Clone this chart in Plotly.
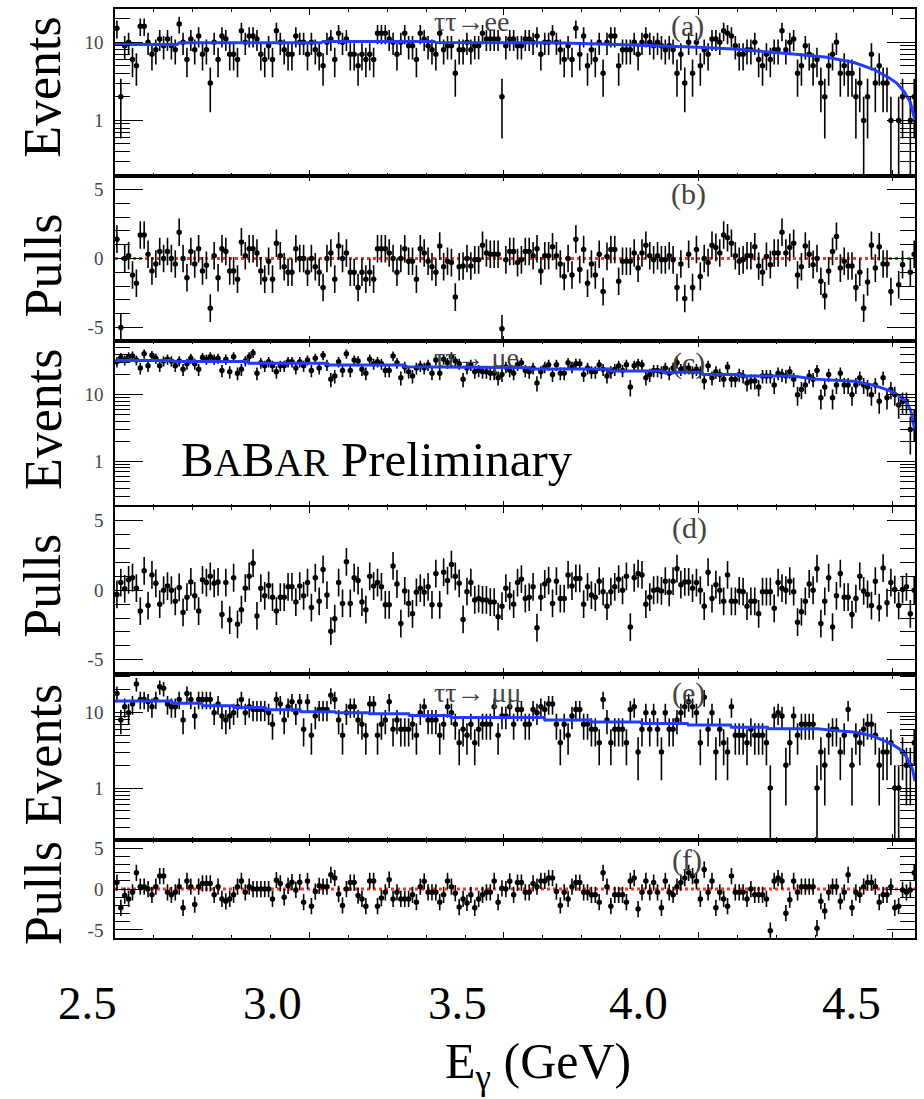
import numpy as np
import plotly.graph_objects as go
from plotly.subplots import make_subplots

# ---------------- binning ----------------
BIN_LO = 2.50
BIN_W = 0.01
N_BINS = 206
X_RANGE = [2.50, 4.557]

# ---------------- tau tau -> e e ----------------
events_a = [15, 2, 9, 10, 6, 5, 16, 16, 10, 7,
            8, 11, 9, 11, 9, 8, 17, 10, 6, 11,
            8, 12, 7, 8, 3, 10, 6, 12, 11, 7,
            7, 6, 14, 10, 12, 12, 11, 7, 6, 9,
            6, 14, 10, 8, 7, 7, 12, 10, 10, 7,
            10, 8, 7, 5, 10, 11, 6, 13, 10, 11,
            7, 7, 5, 7, 6, 7, 6, 13, 13, 13,
            11, 10, 7, 10, 13, 9, 9, 6, 13, 11,
            9, 8, 7, 13, 8, 9, 9, 4, 8,
            8, 10, 8, 9, 9, 13, 11, 11, 11, 11,
            2, 9, 11, 11, 9, 9, 11, 11, 10, 12,
            7, 10, 10, 13, 10, 8, 6, 9, 6, 15,
            7, 12, 5, 8, 6, 10, 4, 10, 12, 12,
            5, 8, 8, 8, 10, 7, 10, 12, 10, 9,
            10, 9, 8, 9, 8, 4, 7, 3, 10, 4,
            10, 5, 8, 7, 11, 11, 10, 14, 13, 12,
            9, 7, 7, 8, 8, 10, 6, 5, 7, 6,
            8, 8, 14, 8, 10, 11, 4, 5, 9, 7,
            5, 6, 3, 2, 5, 7, 10, 4, 5, 4,
            4, 2, 3, 1, 2, 7, 3, 5, 3, 3,
            1, None, 1, 2, None, 1, 2]

pulls_b = [1.4, -5.0, 0.0, 0.2, -1.2, -1.8, 1.7, 1.7, 0.3, -0.9,
           -0.4, 0.5, 0.0, 0.5, 0.0, -0.4, 1.9, 0.0, -1.4, 0.5,
           -0.4, 0.7, -0.9, -0.5, -3.6, 0.2, -1.4, 0.7, 0.5, -0.9,
           -0.9, -1.5, 1.2, 0.2, 0.7, 0.7, 0.4, -0.9, -1.5, -0.2,
           -1.5, 1.1, 0.2, -0.6, -1.0, -1.0, 0.7, 0.0, 0.0, -1.0,
           0.0, -0.6, -1.0, -2.1, 0.0, 0.4, -1.5, 0.9, 0.0, 0.4,
           -1.0, -1.0, -2.1, -1.0, -1.5, -1.0, -1.5, 0.7, 0.7, 0.7,
           0.4, 0.0, -1.0, 0.0, 0.7, -0.2, -0.2, -1.5, 0.7, 0.4,
           -0.2, -0.6, -1.0, 0.9, -0.6, -0.2, -0.3, -2.8, -0.6,
           -0.55, 0.0, -0.55, -0.1, -0.1, 0.95, 0.4, 0.3, 0.3, 0.3,
           -5.1, -0.1, 0.5, 0.5, -0.3, -0.1, 0.5, 0.5, 0.2, 0.7,
           -0.9, 0.2, 0.2, 0.85, 0.2, -0.4, -1.3, 0.0, -1.2, 1.4,
           -0.8, 0.65, -1.8, -0.4, -1.2, 0.3, -2.4, 0.15, 0.65, 0.65,
           -1.65, -0.2, -0.2, -0.2, 0.4, -0.7, 0.4, 0.95, 0.2, -0.1,
           0.2, -0.1, -0.1, 0.2, -0.1, -2.1, -0.4, -2.9, 0.3, -2.1,
           0.65, -1.3, 0.0, -0.3, 0.95, 0.8, 0.4, 1.7, 1.5, 1.1,
           0.2, -0.2, -0.1, 0.2, 0.2, 0.85, -0.55, -1.0, 0.15, -0.45,
           0.4, 0.4, 1.9, 0.4, 0.8, 1.1, -1.2, -0.6, 0.9, 0.3,
           -0.45, 0.0, -1.65, -2.7, -0.9, 0.5, 1.6, -0.7, -0.2, -0.55,
           -0.55, -2.1, -1.0, -3.6, -1.7, 0.95, -0.7, 0.85, -0.4, -0.4,
           -2.4, None, -1.9, -0.45, None, -1.0, 0.3]

fit_a_x = [2.50, 2.660, 2.665, 3.030, 3.035, 3.320, 3.325, 3.630, 3.790, 3.910,
           4.000, 4.100, 4.170, 4.250, 4.330, 4.400, 4.450, 4.490, 4.510, 4.530,
           4.545, 4.557]
fit_a_y = [9.3, 9.3, 9.8, 9.8, 10.2, 10.2, 9.9, 9.8, 9.3, 9.0,
           8.6, 8.1, 7.6, 7.0, 6.4, 5.5, 4.5, 3.5, 3.0, 2.3,
           1.7, 1.0]

# ---------------- tau tau -> mu e ----------------
events_c = [31, 36, 33, 37, 38, 33, 25, 41, 27, 39,
            35, 27, 32, 34, 32, 27, 32, 24, 29, 35,
            29, 24, 36, 34, 37, 34, 35, 23, 34, 22,
            37, 21, 24, 32, 37, 42, 21, 30, 27, 31,
            27, 22, 27, 27, 31, 31, 25, 31, 27, 33,
            23, 35, 25, 39, 28, 17, 19, 31, 23, 41,
            23, 33, 32, 24, 21, 34, 29, 31, 29, 23,
            23, 38, 30, 18, 26, 22, 19, 25, 27, 25,
            28, 21, 33, 21, 34, 30, 37, 32, 29,
            17, 25, 28, 22, 23, 22, 22, 21, 21, 18,
            20, 26, 23, 21, 28, 30, 23, 22, 25, 15,
            22, 26, 28, 20, 28, 21, 21, 30, 26, 29,
            29, 20, 25, 22, 22, 28, 24, 19, 22, 24,
            27, 23, 28, 13, 27, 29, 28, 18, 20, 23,
            23, 22, 25, 21, 25, 30, 24, 25, 25, 22,
            24, 22, 16, 27, 18, 22, 20, 17, 26, 17,
            17, 20, 19, 15, 16, 16, 13, 19, 19, 19,
            14, 21, 20, 19, 22, 17, 10, 12, 14, 19,
            17, 23, 9, 13, 20, 9, 14, 21, 14, 14,
            10, 14, 18, 14, 13, 10, 14, 8, 18, 9,
            12, 10, 7, 8, 8, 3, 4]

pulls_d = [-0.3, 0.55, 0.1, 0.75, 0.9, 0.15, -1.5, 1.4, -1.1, 1.1,
           0.5, -1.0, 0.0, 0.3, 0.0, -0.8, 0.2, -1.6, -0.5, 0.6,
           -0.4, -1.5, 0.75, 0.55, 1.0, 0.5, 0.6, -1.75, 0.55, -2.15,
           0.9, -2.45, -1.4, 0.15, 1.0, 1.95, -1.85, 0.15, -0.4, 0.35,
           -0.5, -1.5, -0.5, -0.5, 0.25, 0.25, -0.85, 0.3, -0.4, 0.55,
           -1.25, 0.9, -0.8, 1.5, -0.35, -2.95, -2.05, 0.55, -0.95, 2.05,
           -0.95, 0.9, 0.7, -0.85, -1.4, 1.0, 0.3, 0.55, 0.25, -1.05,
           -1.05, 1.75, 0.45, -2.4, -0.05, -0.95, -1.7, -0.15, 0.15, -0.15,
           0.25, -1.05, 1.2, -1.05, 1.3, 0.7, 1.85, 1.0, 0.5,
           -2.1, -0.1, 0.55, -0.7, -0.6, -0.7, -0.7, -0.85, -0.85, -1.9,
           -1.15, 0.15, -0.4, -1.0, 0.55, 0.8, -0.6, -0.5, 0.25, -2.7,
           -0.5, 0.45, 0.7, -0.95, 0.65, -0.6, -0.6, 1.1, 0.3, 0.85,
           0.85, -1.0, 0.25, -0.35, -0.5, 0.65, -0.1, -1.15, -0.1, 0.25,
           0.8, 0.0, 1.0, -2.65, 0.9, 1.2, 1.1, -1.0, -0.5, 0.0,
           0.05, -0.05, 0.65, -0.15, 0.65, 1.55, 0.4, 0.6, 0.6, 0.15,
           0.55, 0.0, -1.15, 1.3, -0.6, 0.4, 0.0, -0.8, 1.1, -0.8,
           -0.8, -0.05, -0.1, -1.15, -0.8, -0.8, -1.7, -0.1, -0.1, -0.1,
           -1.3, 0.55, 0.15, 0.0, 0.65, -0.1, -2.3, -1.55, -0.8, 0.45,
           0.0, 1.55, -2.4, -0.8, 0.9, -2.65, -0.4, 1.2, -0.5, -0.5,
           -1.75, -0.6, 1.0, -0.05, -0.3, -1.1, 0.65, -1.25, 1.6, -0.9,
           0.55, 0.05, -1.1, 0.05, 0.25, -1.7, 0.0]

fit_c_x = [2.50, 2.650, 2.652, 2.842, 2.844, 3.045, 3.047, 3.242, 3.244, 3.393,
           3.400, 3.565, 3.567, 3.771, 3.773, 3.908, 3.910, 4.010, 4.012, 4.106,
           4.108, 4.242, 4.300, 4.400, 4.450, 4.490, 4.515, 4.535, 4.546, 4.557]
fit_c_y = [32.4, 32.4, 31.3, 31.3, 29.5, 29.5, 27.8, 27.8, 26.3, 26.0,
           25.4, 25.4, 24.2, 24.2, 22.6, 22.6, 21.6, 21.6, 20.1, 20.1,
           19.0, 19.0, 17.1, 15.9, 13.9, 11.6, 9.8, 7.7, 5.8, 2.9]

# ---------------- tau tau -> mu mu ----------------
events_e = [18, 8, 12, 10, 13, 24, 15, 15, 14, 12,
            15, 22, 21, 13, 12, 12, 15, 8, 18, 15,
            9, 15, 15, 15, 15, 10, 13, 9, 8, 9,
            10, 12, 15, 10, 12, 11, 11, 11, 11, 10,
            7, 15, 13, 8, 12, 14, 10, 14, 6, 14,
            5, 9, 11, 11, 11, 17, 15, 8, 5, 10,
            12, 12, 8, 7, 5, 13, 13, 5, 7, 8,
            14, 6, 8, 6, 6, 6, 7, 5, 10, 12,
            8, 8, 8, 5, 7, 12, 10, 7, 4,
            6, 5, 7, 4, 6, 7, 7, 7, 12, 5,
            9, 9, 12, 7, 11, 11, 7, 7, 11, 10,
            12, 11, 13, 13, 7, 4, 7, 5, 9, 11,
            11, 7, 7, 6, 6, 4, 15, 8, 4, 6,
            6, 6, 4, 11, 12, 3, 6, 10, 6, 10,
            6, 3, 10, 6, 6, 8, 10, 12, 14, 12,
            10, 4, 16, 6, 10, 3, 6, 4, 3, 12,
            5, 5, 5, 4, 6, 5, 5, 5, 4, 1,
            9, 10, 9, 2, 4, 9, 5, 7, 7, 7,
            7, 1, 3, 2, 5, 6, 6, 3, 5, 11,
            2, 5, 4, 6, 7, 7, 5, 2, 3, 3,
            4, 1, 1, 3, 2, 2, 4]

pulls_f = [0.8, -2.3, -0.8, -1.2, -0.4, 2.0, 0.3, 0.3, 0.0, -0.7,
           0.3, 1.6, 1.6, -0.4, -0.7, -0.4, 0.3, -2.3, 1.0, 0.3,
           -1.9, 0.3, 0.7, 0.7, 0.7, -0.7, 0.3, -1.2, -1.5, -1.2,
           -0.7, 0.3, 1.0, -0.4, 0.3, 0.0, 0.0, 0.0, 0.0, 0.0,
           -1.2, 1.1, 0.7, -1.0, 0.4, 0.85, -0.1, 0.85, -1.6, 1.0,
           -2.1, -0.3, 0.4, 0.3, 0.3, 1.75, 1.35, -0.6, -2.0, 0.0,
           0.8, 0.8, -0.8, -1.2, -2.1, 1.0, 1.0, -2.1, -1.1, -0.4,
           1.15, -1.2, -0.4, -1.2, -1.2, -1.2, -0.7, -1.6, 0.3, 0.95,
           -0.4, -0.4, -0.4, -1.6, -0.7, 1.0, 0.3, -0.5, -2.2,
           -1.2, -1.7, -0.7, -2.3, -1.2, -0.7, -0.4, -0.4, 1.0, -1.6,
           0.1, 0.0, 0.95, -0.7, 0.8, 0.8, -0.4, -0.4, 0.7, 0.3,
           1.0, 1.0, 1.35, 1.35, -0.3, -2.0, -0.4, -1.2, 0.3, 0.8,
           0.8, -0.4, -0.4, -0.7, -0.7, -1.6, 2.0, 0.3, -2.1, -0.7,
           -0.7, -0.7, -1.6, 1.0, 1.35, -2.45, -0.4, 1.0, -0.4, 0.8,
           -0.4, -2.3, 1.0, -0.4, -0.7, 0.3, 0.8, 1.35, 2.0, 1.6,
           0.95, -1.2, 2.4, -0.4, 1.0, -2.3, -0.4, -1.2, -2.1, 1.6,
           -0.4, -0.4, -0.4, -1.2, 0.0, -0.7, -0.7, -0.7, -1.2, -5.1,
           1.0, 1.35, 1.0, -2.95, -1.3, 1.0, -0.4, 0.3, 0.3, 0.3,
           0.3, -4.8, -1.5, -2.7, -0.4, 0.3, 0.3, -1.5, -0.4, 1.75,
           -2.3, -0.4, -0.7, 0.3, 0.8, 0.8, 0.3, -1.6, -0.7, -0.7,
           0.3, -2.3, -2.1, -0.1, -0.4, -0.1, 2.0]

fit_e_x = [2.50, 2.646, 2.648, 2.723, 2.725, 2.804, 2.806, 2.886, 2.888, 2.976,
           2.978, 3.066, 3.068, 3.152, 3.154, 3.255, 3.257, 3.362, 3.364, 3.603,
           3.605, 3.723, 3.725, 3.852, 3.854, 3.972, 3.974, 4.083, 4.085, 4.178,
           4.180, 4.306, 4.350, 4.405, 4.448, 4.495, 4.517, 4.534, 4.551, 4.557]
fit_e_y = [14.3, 14.3, 13.3, 13.3, 12.3, 12.3, 11.7, 11.7, 10.9, 10.9,
           10.3, 10.3, 10.0, 10.0, 9.7, 9.7, 9.2, 9.2, 8.6, 8.6,
           8.0, 8.0, 7.5, 7.5, 7.2, 7.2, 6.85, 6.85, 6.4, 6.4,
           6.1, 6.1, 5.8, 5.5, 4.9, 3.9, 3.3, 2.65, 1.76, 1.23]

# ---------------- labels ----------------
x_tick_vals = [2.5, 3.0, 3.5, 4.0, 4.5]
x_label_text = ["2.5", "3.0", "3.5", "4.0", "4.5"]
channel_titles = ["\u03c4\u03c4\u2192ee", "\u03c4\u03c4\u2192 \u03bce", "\u03c4\u03c4\u2192 \u03bc\u03bc"]
panel_tags = ["(a)", "(b)", "(c)", "(d)", "(e)", "(f)"]
y_titles = ["Events", "Pulls", "Events", "Pulls", "Events", "Pulls"]

# ---------------- geometry (pixels) ----------------
W, H = 924, 1099
ML, MR, MT, MB = 115, 9, 7, 161
row_px = [167, 166, 166, 167, 167, 98]
PW = W - ML - MR
PH = H - MT - MB
SERIF = "Liberation Serif"
# overlaid big x labels (pixel centres as drawn in the figure)
x_label_px = [87, 272, 457, 638, 851]
x_label_py = 1003


def px_x(px):
    return (px - ML) / PW


def px_y(py):
    return (H - MB - py) / PH


x_centers = BIN_LO + BIN_W * (np.arange(N_BINS) + 0.5)


def arr(v):
    return np.array([np.nan if a is None else a for a in v], dtype=float)


fig = make_subplots(rows=6, cols=1, shared_xaxes=True, vertical_spacing=0,
                    row_heights=row_px)

panels = [
    ("events", events_a, fit_a_x, fit_a_y, [np.log10(0.197), np.log10(26.5)]),
    ("pulls", pulls_b, None, None, [-6, 6]),
    ("events", events_c, fit_c_x, fit_c_y, [np.log10(0.209), np.log10(63.0)]),
    ("pulls", pulls_d, None, None, [-6, 6]),
    ("events", events_e, fit_e_x, fit_e_y, [np.log10(0.203), np.log10(33.0)]),
    ("pulls", pulls_f, None, None, [-6, 6]),
]

log_minor = [0.2, 0.3, 0.4, 0.5, 0.6, 0.7, 0.8, 0.9, 2, 3, 4, 5, 6, 7, 8, 9, 20, 30, 40, 50, 60]

for i, (kind, vals, fx, fy, yr) in enumerate(panels):
    row = i + 1
    y = arr(vals)
    if kind == "events":
        err = np.sqrt(y)
    else:
        err = np.where(np.isnan(y), np.nan, 1.0)
    fig.add_trace(go.Scatter(
        x=x_centers, y=y, mode="markers",
        marker=dict(color="black", size=5.5),
        error_y=dict(type="data", array=err, visible=True, color="black",
                     thickness=1.6, width=0),
        error_x=dict(type="constant", value=BIN_W / 2, visible=True, color="black",
                     thickness=1.6, width=0),
        showlegend=False, hoverinfo="skip"), row=row, col=1)
    if fx is not None:
        fig.add_trace(go.Scatter(
            x=fx, y=fy, mode="lines",
            line=dict(color="#1f3cff", width=3),
            showlegend=False, hoverinfo="skip"), row=row, col=1)

    common_y = dict(range=yr, showline=True, linecolor="black", linewidth=1.5,
                    mirror="allticks", ticks="inside", ticklen=28, tickwidth=1.2,
                    tickcolor="black", showgrid=False, zeroline=False,
                    ticklabelstandoff=6,
                    tickfont=dict(family=SERIF, size=19, color="#444"))
    if kind == "events":
        fig.update_yaxes(type="log", tickmode="array", tickvals=[1, 10], ticktext=["1", "10"],
                         minor=dict(tickmode="array", tickvals=log_minor, ticks="inside",
                                    ticklen=15, tickwidth=1.2, tickcolor="black", showgrid=False),
                         row=row, col=1, **common_y)
    else:
        fig.update_yaxes(tickmode="array", tickvals=[-5, 0, 5], ticktext=["-5", "0", "5"],
                         minor=dict(tickmode="array", tickvals=[-4, -3, -2, -1, 1, 2, 3, 4],
                                    ticks="inside", ticklen=15, tickwidth=1.2,
                                    tickcolor="black", showgrid=False),
                         row=row, col=1, **common_y)
        yref = "y" if row == 1 else "y%d" % row
        xref = "x domain" if row == 1 else "x%d domain" % row
        fig.add_shape(type="line", xref=xref, yref=yref, x0=0, x1=1, y0=0, y1=0,
                      line=dict(color="#ff3320", width=3, dash="dot"), layer="below")

    fig.update_xaxes(range=X_RANGE, showline=True, linecolor="black", linewidth=1.5,
                     mirror="allticks", ticks="inside", ticklen=6, tickwidth=1.2,
                     tickcolor="black", tickmode="array", tickvals=x_tick_vals,
                     showticklabels=False,
                     minor=dict(dtick=0.1, tick0=2.5, ticks="inside", ticklen=3,
                                tickwidth=1.2, tickcolor="black", showgrid=False),
                     showgrid=False, zeroline=False, row=row, col=1)

annotations = []
# big overlaid x labels
for t, cx in zip(x_label_text, x_label_px):
    annotations.append(dict(text=t, xref="paper", yref="paper", x=px_x(cx), y=px_y(x_label_py),
                            xanchor="center", yanchor="middle", showarrow=False,
                            font=dict(family=SERIF, size=47, color="black")))
# y-axis titles
y_title_centers = [85, 264, 418, 585, 754, 893]
for t, cy in zip(y_titles, y_title_centers):
    annotations.append(dict(text=t, xref="paper", yref="paper", x=px_x(43), y=px_y(cy),
                            xanchor="center", yanchor="middle", textangle=-90,
                            showarrow=False, font=dict(family=SERIF, size=52, color="black")))
# channel titles
for t, cy in zip(channel_titles, [20, 356, 692]):
    annotations.append(dict(text=t, xref="paper", yref="paper", x=px_x(432), y=px_y(cy),
                            xanchor="left", yanchor="middle", showarrow=False,
                            font=dict(family=SERIF, size=28, color="#444")))
# panel tags
for t, cx, cy in zip(panel_tags, [687, 688, 688, 689, 688, 687], [24, 192, 362, 527, 692, 860]):
    annotations.append(dict(text=t, xref="paper", yref="paper", x=px_x(cx), y=px_y(cy),
                            xanchor="center", yanchor="middle", showarrow=False,
                            font=dict(family=SERIF, size=30, color="#444")))
# BABAR Preliminary
annotations.append(dict(
    text="B<span style='font-size:39px'>A</span>B<span style='font-size:39px'>AR</span> Preliminary",
    xref="paper", yref="paper", x=px_x(179), y=px_y(458), xanchor="left", yanchor="middle",
    showarrow=False, font=dict(family=SERIF, size=49, color="black")))
# x-axis title
annotations.append(dict(text="E<sub>\u03b3</sub> (GeV)", xref="paper", yref="paper",
                        x=px_x(538), y=px_y(1065), xanchor="center", yanchor="middle",
                        showarrow=False, font=dict(family=SERIF, size=50, color="black")))

fig.update_layout(width=W, height=H, autosize=False,
                  margin=dict(l=ML, r=MR, t=MT, b=MB),
                  paper_bgcolor="white", plot_bgcolor="white",
                  annotations=annotations, showlegend=False)

fig.write_html("out.html")
